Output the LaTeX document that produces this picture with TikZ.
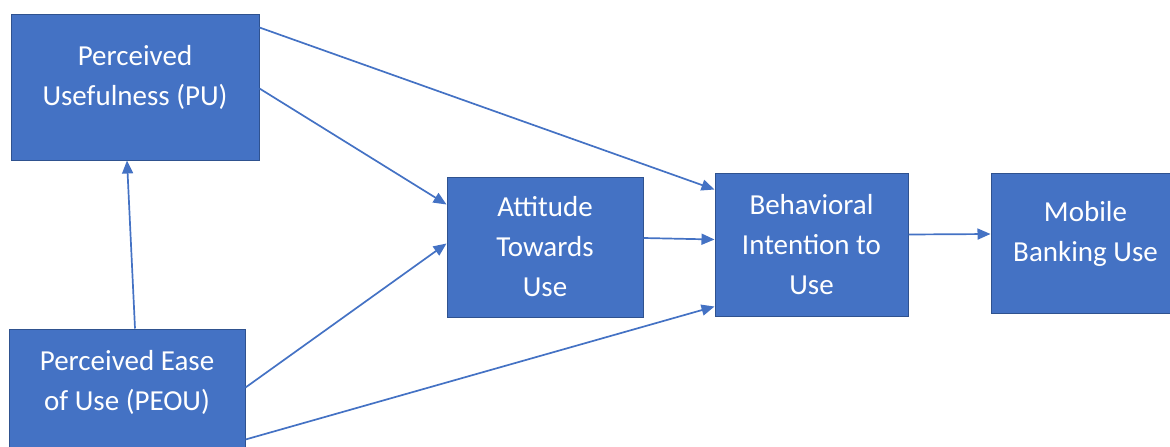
\documentclass[tikz,border=0pt]{standalone}
\usepackage{fontspec}
\setmainfont{Carlito}
\usetikzlibrary{arrows.meta}

\definecolor{boxblue}{HTML}{4472C4}
\definecolor{boxedge}{HTML}{2F528F}

\tikzset{
  box/.style={draw=boxedge,fill=boxblue,line width=1pt,text=white,align=center,
    font=\fontsize{29}{40}\selectfont,inner sep=0pt},
  twoline/.style={text depth=24pt},
  link/.style={draw=boxblue,line width=1.7pt,-{Triangle[length=13pt,width=11pt]}}
}

\begin{document}
\begin{tikzpicture}[x=1pt,y=-1pt]
\useasboundingbox (0,0) rectangle (1170,447);
\clip (0,0) rectangle (1170,447);

% the five constructs
\node[box,twoline,minimum width=248pt,minimum height=146pt] (pu) at (135,87) {Perceived\\Usefulness (PU)};
\node[box,twoline,minimum width=236pt,minimum height=126pt] (peou) at (127,392) {Perceived Ease\\of Use (PEOU)};
\node[box,minimum width=196pt,minimum height=140pt] (att) at (545,247) {Attitude\\Towards\\Use};
\node[box,minimum width=193pt,minimum height=143pt] (bi) at (811.5,244.5) {Behavioral\\Intention to\\Use};
\node[box,twoline,minimum width=189pt,minimum height=140pt] (mbu) at (1085.5,243) {Mobile\\Banking Use};

% paths between them
\draw[link] ([xshift=8pt]peou.north) -- ([xshift=-8pt]pu.south);
\draw[link] ([yshift=-14pt]pu.north east) -- ([yshift=-17pt]bi.north west);
\draw[link] ([yshift=-75pt]pu.north east) -- ([yshift=-28pt]att.north west);
\draw[link] ([yshift=-59pt]peou.north east) -- ([yshift=-67pt]att.north west);
\draw[link] ([yshift=-111pt]peou.north east) -- ([yshift=10pt]bi.south west);
\draw[link] ([yshift=9pt]att.east) -- ([yshift=5pt]bi.west);
\draw[link] ([yshift=10pt]bi.east) -- ([yshift=9pt]mbu.west);

\end{tikzpicture}
\end{document}
